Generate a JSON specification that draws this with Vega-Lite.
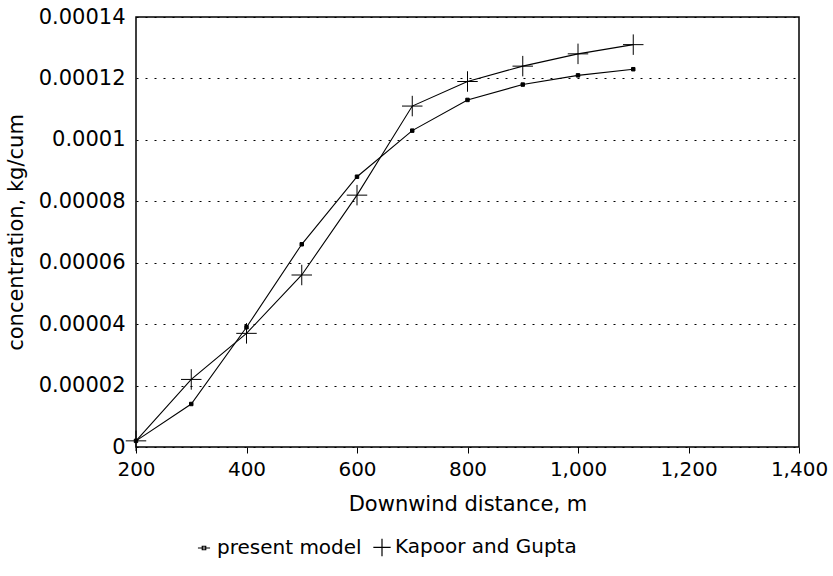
{
  "$schema": "https://vega.github.io/schema/vega-lite/v6.json",
  "autosize": "none",
  "width": 663,
  "height": 430,
  "padding": {"left": 136, "top": 17, "right": 34, "bottom": 129},
  "background": "white",
  "config": {
    "font": "DejaVu Sans",
    "view": {"stroke": "black", "strokeWidth": 1.5},
    "axis": {"labelFont": "DejaVu Sans", "titleFont": "DejaVu Sans", "labelFontSize": 20, "titleFontSize": 21, "labelColor": "black", "titleColor": "black", "titleFontWeight": "normal"}
  },
  "data": {
    "values": [
      {"x": 200, "y": 0.000002, "series": "present model"},
      {"x": 300, "y": 0.000014, "series": "present model"},
      {"x": 400, "y": 0.000039, "series": "present model"},
      {"x": 500, "y": 0.000066, "series": "present model"},
      {"x": 600, "y": 0.000088, "series": "present model"},
      {"x": 700, "y": 0.000103, "series": "present model"},
      {"x": 800, "y": 0.000113, "series": "present model"},
      {"x": 900, "y": 0.000118, "series": "present model"},
      {"x": 1000, "y": 0.000121, "series": "present model"},
      {"x": 1100, "y": 0.000123, "series": "present model"},
      {"x": 200, "y": 0.000002, "series": "Kapoor and Gupta"},
      {"x": 300, "y": 0.000022, "series": "Kapoor and Gupta"},
      {"x": 400, "y": 0.000037, "series": "Kapoor and Gupta"},
      {"x": 500, "y": 0.000056, "series": "Kapoor and Gupta"},
      {"x": 600, "y": 0.000082, "series": "Kapoor and Gupta"},
      {"x": 700, "y": 0.000111, "series": "Kapoor and Gupta"},
      {"x": 800, "y": 0.000119, "series": "Kapoor and Gupta"},
      {"x": 900, "y": 0.000124, "series": "Kapoor and Gupta"},
      {"x": 1000, "y": 0.000128, "series": "Kapoor and Gupta"},
      {"x": 1100, "y": 0.000131, "series": "Kapoor and Gupta"}
    ]
  },
  "encoding": {
    "x": {
      "field": "x", "type": "quantitative",
      "scale": {"domain": [200, 1400], "nice": false, "zero": false},
      "axis": {"title": "Downwind distance, m", "values": [200, 400, 600, 800, 1000, 1200, 1400], "format": ",d", "grid": false, "domain": false, "tickColor": "black", "tickSize": 6, "labelPadding": 6, "titlePadding": 14, "labelFlush": false}
    },
    "y": {
      "field": "y", "type": "quantitative",
      "scale": {"domain": [0, 0.00014], "nice": false},
      "axis": {"title": "concentration, kg/cum", "values": [0, 0.00002, 0.00004, 0.00006, 0.00008, 0.0001, 0.00012, 0.00014], "format": ".5~f", "labelFontSize": 21, "grid": true, "gridColor": "black", "gridDash": [2, 7], "gridWidth": 1, "domain": false, "ticks": false, "labelPadding": 11, "titlePadding": 12, "labelFlush": false}
    }
  },
  "layer": [
    {
      "mark": {"type": "line", "color": "black", "strokeWidth": 1.1},
      "encoding": {"detail": {"field": "series"}}
    },
    {
      "transform": [{"filter": "datum.series === 'present model'"}],
      "mark": {"type": "point", "filled": true, "shape": "square", "size": 12, "fill": "black", "stroke": "black", "strokeWidth": 1, "opacity": 1}
    },
    {
      "transform": [{"filter": "datum.series === 'Kapoor and Gupta'"}],
      "mark": {"type": "point", "filled": false, "shape": "M-1,0H1M0,-1V1", "size": 420, "stroke": "black", "strokeWidth": 1, "opacity": 1}
    },
    {
      "transform": [{"filter": "datum.x < 0"}],
      "mark": {"type": "point", "filled": false, "stroke": "black", "strokeWidth": 1.2, "opacity": 1},
      "encoding": {
        "shape": {
          "field": "series", "type": "nominal",
          "scale": {"domain": ["present model", "Kapoor and Gupta"], "range": ["M-0.7,0H0.7M-0.2,-0.2H0.2V0.2H-0.2Z", "M-1,0H1M0,-1V1"]},
          "legend": {
            "title": null, "orient": "none", "direction": "horizontal", "legendX": 58, "legendY": 520,
            "labelFontSize": 20, "labelFont": "DejaVu Sans", "labelColor": "black", "labelLimit": 0,
            "symbolSize": 300, "symbolStrokeColor": "black", "symbolStrokeWidth": 1.2,
            "symbolOpacity": 1, "columnPadding": 8, "labelOffset": 3
          }
        }
      }
    }
  ]
}
